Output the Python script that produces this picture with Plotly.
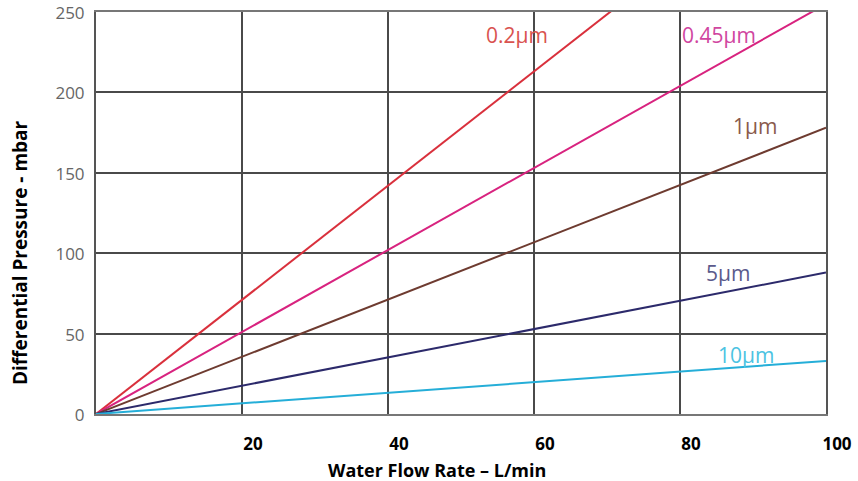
import plotly.graph_objects as go

flow_rate = [0, 100]
series_names = ["0.2µm", "0.45µm", "1µm", "5µm", "10µm"]
dp_02 = [0, 355]
dp_045 = [0, 255]
dp_1 = [0, 178]
dp_5 = [0, 88]
dp_10 = [0, 33]
series_values = [dp_02, dp_045, dp_1, dp_5, dp_10]

x_ticks = [20, 40, 60, 80, 100]
y_ticks = [0, 50, 100, 150, 200, 250]

line_colors = ["#d9303c", "#d8237f", "#6e3b30", "#2c2a6b", "#25aed8"]
label_colors = ["#d9534f", "#d046a0", "#8a5a4c", "#5b5a8c", "#4cc3e2"]
label_pos = [(57.7, 236), (85.3, 236), (90.3, 179), (86.6, 88), (89, 37)]

fig = go.Figure()
for name, vals, col in zip(series_names, series_values, line_colors):
    fig.add_trace(go.Scatter(x=flow_rate, y=vals, mode="lines", name=name,
                             line=dict(color=col, width=2), showlegend=False))

for name, (lx, ly), col in zip(series_names, label_pos, label_colors):
    fig.add_annotation(x=lx, y=ly, text=name, showarrow=False,
                       xanchor="center", yanchor="middle",
                       font=dict(family="Open Sans", size=21, color=col))

fig.add_annotation(xref="paper", yref="paper", x=(437 - 96) / 730, y=-(470 - 414) / 402,
                   xanchor="center", yanchor="middle",
                   text="<b>Water Flow Rate – L/min</b>", showarrow=False,
                   font=dict(family="Open Sans", size=18, color="black"))
fig.add_annotation(xref="paper", yref="paper", x=(20 - 96) / 730, y=(414 - 253) / 402,
                   xanchor="center", yanchor="middle",
                   text="<b>Differential Pressure - mbar</b>", showarrow=False, textangle=-90,
                   font=dict(family="Open Sans", size=19, color="black"))

fig.update_layout(
    width=858, height=481,
    margin=dict(l=96, r=32, t=12, b=67, autoexpand=False),
    paper_bgcolor="white", plot_bgcolor="white",
)
fig.update_xaxes(range=[0, 100], tickvals=x_ticks, ticktext=[str(v) for v in x_ticks],
                 automargin=False, ticklabeloverflow="allow",
                 showgrid=True, gridcolor="#4a4a4a", gridwidth=1.5,
                 showline=True, linecolor="#777", linewidth=2, mirror=True,
                 zeroline=False, ticks="outside", ticklen=14, tickcolor="rgba(0,0,0,0)",
                 ticklabelshift=11,
                 tickfont=dict(family="Open Sans", size=17, color="black", weight="bold"))
fig.update_yaxes(range=[0, 250], tickvals=y_ticks, automargin=False,
                 ticklabeloverflow="allow",
                 showgrid=True, gridcolor="#4a4a4a", gridwidth=1.5,
                 showline=True, linecolor="#555", linewidth=2, mirror=True,
                 zeroline=False, ticks="outside", ticklen=6, tickcolor="rgba(0,0,0,0)",
                 ticklabelshift=1,
                 tickfont=dict(family="Open Sans", size=17, color="#666"))

fig.write_html("out.html", post_script="document.body.style.margin='0';",
               config={"displayModeBar": False})
